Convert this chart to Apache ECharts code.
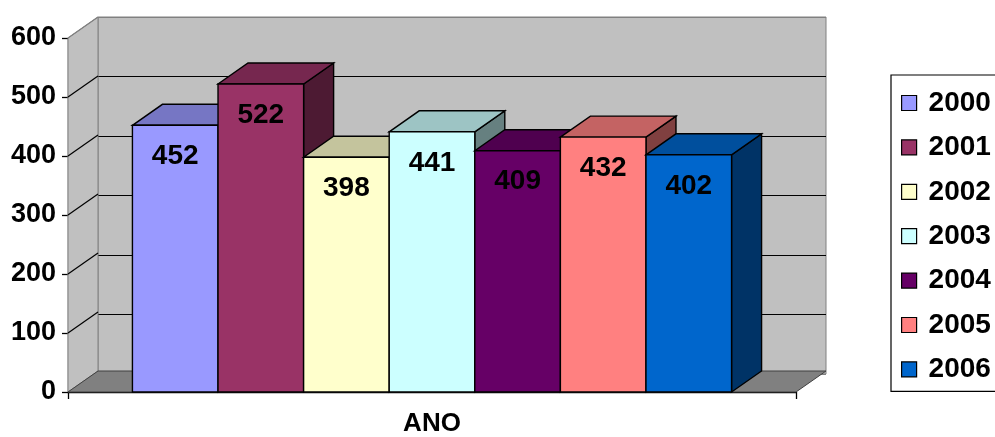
<!DOCTYPE html>
<html>
<head>
<meta charset="utf-8">
<script src="https://cdn.jsdelivr.net/npm/echarts@6/dist/echarts.min.js"></script>
<style>
  html, body { margin: 0; padding: 0; background: #ffffff; }
  #chart { width: 995px; height: 437px; }
</style>
</head>
<body>
<div id="chart"></div>
<script>
// Chart data
const category = ['ANO'];
const years = ['2000', '2001', '2002', '2003', '2004', '2005', '2006'];
const counts = [452, 522, 398, 441, 409, 432, 402];
const barColors = ['#9999FF', '#993366', '#FFFFCC', '#CCFFFF', '#660066', '#FF8080', '#0066CC'];
const yTicks = [0, 100, 200, 300, 400, 500, 600];

// Drawing constants
const FONT = "'Liberation Sans', Arial, Helvetica, sans-serif";
const DEPTH = [30, -21];        // screen offset of the back plane
const SPAN = 0.823;            // share of the category band used by the bar cluster
const FRONT = { left: 68, right: 199, top: 38, bottom: 42 };
const BACK = {
  left: FRONT.left + DEPTH[0],
  right: FRONT.right - DEPTH[0],
  top: FRONT.top + DEPTH[1],
  bottom: FRONT.bottom - DEPTH[1]
};
const WALL = '#C0C0C0';
const FLOOR = '#808080';
const EDGE = '#808080';

function shade(hex, k) {
  const n = parseInt(hex.slice(1), 16);
  const r = Math.round(((n >> 16) & 255) * k);
  const g = Math.round(((n >> 8) & 255) * k);
  const b = Math.round((n & 255) * k);
  return 'rgb(' + r + ',' + g + ',' + b + ')';
}

// Side wall, floor and the receding grid lines of the side wall
function frameRenderer(params, api) {
  const band = api.size([1, 0])[0];
  const c0 = api.coord([0, 0]);
  const xl = c0[0] - band / 2;
  const xr = c0[0] + band / 2;
  const y0 = c0[1];
  const yTop = api.coord([0, yTicks[yTicks.length - 1]])[1];
  const dx = DEPTH[0], dy = DEPTH[1];
  const children = [];
  children.push({
    type: 'polygon',
    shape: { points: [[xl, y0], [xl, yTop], [xl + dx, yTop + dy], [xl + dx, y0 + dy]] },
    style: { fill: WALL, stroke: EDGE, lineWidth: 1 }
  });
  yTicks.forEach(function (t, i) {
    if (i === 0) return;
    const y = api.coord([0, t])[1];
    children.push({
      type: 'line',
      shape: { x1: xl, y1: y, x2: xl + dx, y2: y + dy },
      style: { stroke: i === yTicks.length - 1 ? EDGE : '#000000', lineWidth: 1.2 }
    });
  });
  children.push({
    type: 'polygon',
    shape: { points: [[xl, y0], [xr, y0], [xr + dx, y0 + dy], [xl + dx, y0 + dy]] },
    style: { fill: FLOOR, stroke: '#404040', lineWidth: 1 }
  });
  return { type: 'group', children: children };
}

// One 3D column: side face, top face, front face and its value
function barRenderer(idx) {
  return function (params, api) {
    const v = api.value(1);
    const base = api.coord([api.value(0), 0]);
    const top = api.coord([api.value(0), v]);
    const band = api.size([1, 0])[0];
    const w = band * SPAN / years.length;
    const x0 = base[0] - band * SPAN / 2 + idx * w;
    const x1 = x0 + w;
    const dx = DEPTH[0], dy = DEPTH[1];
    const yt = top[1], yb = base[1];
    const col = barColors[idx];
    const edge = { stroke: '#000000', lineWidth: 1.4, lineJoin: 'miter' };
    return {
      type: 'group',
      children: [
        {
          type: 'polygon',
          shape: { points: [[x1, yt], [x1 + dx, yt + dy], [x1 + dx, yb + dy], [x1, yb]] },
          style: Object.assign({ fill: shade(col, 0.5) }, edge)
        },
        {
          type: 'polygon',
          shape: { points: [[x0, yt], [x1, yt], [x1 + dx, yt + dy], [x0 + dx, yt + dy]] },
          style: Object.assign({ fill: shade(col, 0.77) }, edge)
        },
        {
          type: 'rect',
          shape: { x: x0, y: yt, width: w, height: yb - yt },
          style: Object.assign({ fill: col }, edge)
        },
        {
          type: 'text',
          x: (x0 + x1) / 2,
          y: yt + 31,
          style: {
            text: String(v),
            fill: '#000000',
            font: 'bold 28px ' + FONT,
            align: 'center',
            verticalAlign: 'middle'
          }
        }
      ]
    };
  };
}

const barSeries = years.map(function (y, i) {
  return {
    type: 'custom',
    name: y,
    xAxisIndex: 0,
    yAxisIndex: 0,
    z: 3,
    itemStyle: { color: barColors[i] },
    renderItem: barRenderer(i),
    encode: { x: 0, y: 1 },
    data: [[0, counts[i]]]
  };
});

const chart = echarts.init(document.getElementById('chart'), null, { renderer: 'canvas' });
chart.setOption({
  animation: false,
  backgroundColor: '#ffffff',
  grid: [
    Object.assign({ containLabel: false }, FRONT),
    Object.assign({
      containLabel: false,
      show: true,
      backgroundColor: WALL,
      borderColor: EDGE,
      borderWidth: 1
    }, BACK)
  ],
  xAxis: [
    {
      type: 'category',
      gridIndex: 0,
      data: category,
      boundaryGap: true,
      axisLine: { show: true, lineStyle: { color: '#000000', width: 1.3 } },
      axisTick: { show: true, length: 7, lineStyle: { color: '#000000', width: 1.3 } },
      axisLabel: { color: '#000000', fontFamily: FONT, fontWeight: 'bold', fontSize: 26, margin: 19 }
    },
    {
      type: 'category',
      gridIndex: 1,
      data: category,
      show: false
    }
  ],
  yAxis: [
    {
      type: 'value',
      gridIndex: 0,
      min: 0,
      max: 600,
      interval: 100,
      axisLine: { show: true, lineStyle: { color: '#000000', width: 1.3 } },
      axisTick: { show: true, length: 6, lineStyle: { color: '#000000', width: 1.3 } },
      axisLabel: { color: '#000000', fontFamily: FONT, fontWeight: 'bold', fontSize: 27, margin: 12 },
      splitLine: { show: false }
    },
    {
      type: 'value',
      gridIndex: 1,
      min: 0,
      max: 600,
      interval: 100,
      axisLine: { show: false },
      axisTick: { show: false },
      axisLabel: { show: false },
      splitLine: {
        show: true,
        lineStyle: {
          color: [EDGE, '#000000', '#000000', '#000000', '#000000', '#000000', EDGE],
          width: 1.2
        }
      }
    }
  ],
  legend: {
    orient: 'vertical',
    left: 891,
    top: 75,
    data: years,
    selectedMode: false,
    icon: 'rect',
    itemWidth: 15,
    itemHeight: 15,
    itemGap: 16.4,
    padding: [14, 20, 8, 10],
    borderColor: '#000000',
    borderWidth: 1.2,
    itemStyle: { borderColor: '#000000', borderWidth: 1.2 },
    textStyle: {
      color: '#000000',
      fontFamily: FONT,
      fontWeight: 'bold',
      fontSize: 28,
      lineHeight: 28,
      padding: [0, 0, 0, 7]
    }
  },
  series: [
    {
      type: 'custom',
      name: 'frame',
      xAxisIndex: 0,
      yAxisIndex: 0,
      z: 1,
      silent: true,
      renderItem: frameRenderer,
      data: [[0, 0]]
    }
  ].concat(barSeries)
});
</script>
</body>
</html>
